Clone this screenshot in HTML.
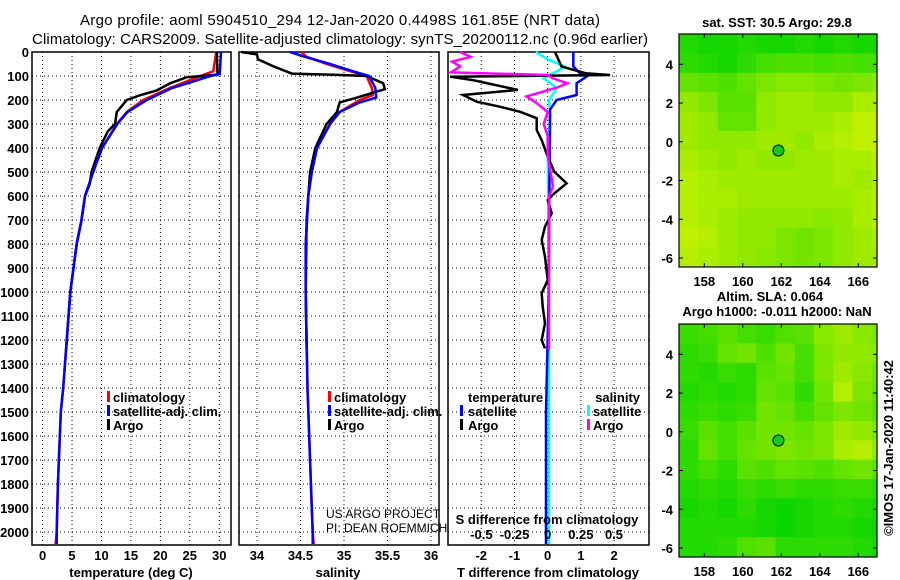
<!DOCTYPE html>
<html><head><meta charset="utf-8"><style>
body{margin:0;background:#fff;}
svg{display:block;font-family:"Liberation Sans",sans-serif;}
.t{font-size:13px;font-weight:bold;fill:#000;}
.n{font-size:12px;font-weight:normal;fill:#000;}
</style></head><body>
<svg id="c" width="900" height="580" viewBox="0 0 900 580">
<text x="340" y="25" text-anchor="middle" font-size="15" textLength="520">Argo profile: aoml 5904510_294 12-Jan-2020 0.4498S 161.85E (NRT data)</text>
<text x="340" y="44" text-anchor="middle" font-size="15" textLength="616">Climatology: CARS2009. Satellite-adjusted climatology: synTS_20200112.nc (0.96d earlier)</text>
<g id="g"></g>
</svg>
<script>
// ---- data ----
const tArgoD=[0,95,105,130,160,180,200,250,300,330,400,500,550,600,700,800,1000,1240];
const tArgoV=[29.6,29.7,24.5,21.7,19.4,16.6,14.3,12.6,12.3,11.1,9.7,8.3,8.0,7.2,6.6,5.8,4.7,4.0];
const tClimD=[0,80,100,150,200,250,300,400,500,600,700,800,1000,1400,1500,1800,2000,2050];
const tClimV=[29.5,29.0,26.8,21.6,17.1,14.3,12.6,10.1,8.6,7.2,6.6,5.8,4.7,3.5,3.1,2.6,2.4,2.2];
const tSatD=[0,90,100,150,200,250,300,400,500,600,700,800,1000,1400,1500,1800,2000,2050];
const tSatV=[30.3,30.1,28.5,22.0,17.7,14.4,12.7,10.1,8.6,7.2,6.6,5.8,4.7,3.5,3.1,2.6,2.4,2.4];
const sArgoD=[0,10,30,40,60,90,95,100,130,155,170,190,210,250,300,400,500,600,700,1000,1240];
const sArgoV=[33.82,34.0,34.01,34.07,34.19,34.4,34.88,35.26,35.45,35.47,35.33,35.15,34.95,34.92,34.8,34.67,34.61,34.59,34.57,34.56,34.57];
const sClimD=[0,20,50,80,100,150,180,200,250,300,400,500,600,800,1000,1400,1800,2000,2050];
const sClimV=[34.51,34.57,34.8,35.07,35.26,35.32,35.33,35.18,34.95,34.84,34.69,34.63,34.59,34.56,34.56,34.58,34.62,34.64,34.65];
const sSatD=[0,20,50,80,100,150,190,210,250,300,400,500,600,800,1000,1400,1800,2000,2050];
const sSatV=[34.38,34.55,34.84,35.1,35.29,35.36,35.37,35.18,34.95,34.84,34.69,34.63,34.59,34.56,34.56,34.58,34.62,34.64,34.64];
const dTArgoD=[0,61,89,96,103,117,158,179,207,228,249,276,325,367,436,499,547,589,617,672,728,783,853,950,1006,1061,1131,1200,1235];
const dTArgoV=[0.22,0.42,1.17,1.88,-2.94,-2.25,-0.9,-2.55,-2.14,-1.44,-0.83,-0.33,-0.33,-0.18,0,0.2,0.57,0.2,0,0.12,-0.08,-0.18,-0.08,0,-0.18,-0.15,-0.08,-0.18,-0.08];
const dTSatD=[0,60,89,103,130,179,200,240,300,600,1000,1500,2050];
const dTSatV=[0.77,0.77,0.97,1.17,0.87,0.87,0.27,0.07,0.07,0.05,0.03,-0.05,-0.05];
const dSArgoD=[0,20,40,60,85,96,110,130,150,185,210,250,300,350,430,560,600,1240];
const dSArgoV=[-0.66,-0.58,-0.72,-0.66,-0.73,0,0.04,0.15,0.06,-0.16,-0.09,0,-0.03,0,0,0.04,0.01,0.01];
const dSSatD=[0,30,60,89,110,150,200,260,400,1000,2050];
const dSSatV=[-0.09,0,0.13,0.04,-0.03,0.07,0.01,0.02,0,0.01,0.01];
const depthTicks=[0,100,200,300,400,500,600,700,800,900,1000,1100,1200,1300,1400,1500,1600,1700,1800,1900,2000];
const tempTicks=[0,5,10,15,20,25,30];
const salTicks=[34,34.5,35,35.5,36];
const tdTicks=[-2,-1,0,1,2];
const sdTicks=[-0.5,-0.25,0,0.25,0.5];
const lonTicks=[158,160,162,164,166];
const latTicks=[-6,-4,-2,0,2,4];
// map values (0=green,1=yellow), rows lat 5.5 -> -6.5, cols lon 156.7 -> 167
const sstRows=[
[0.15,0.1,0.1,0.15,0.1,0.1,0.15,0.1,0.15,0.1,0.1],
[0.2,0.15,0.1,0.2,0.3,0.35,0.35,0.3,0.35,0.3,0.3],
[0.45,0.4,0.35,0.45,0.55,0.6,0.6,0.55,0.5,0.55,0.6],
[0.65,0.55,0.4,0.4,0.65,0.7,0.7,0.65,0.65,0.75,0.75],
[0.7,0.65,0.45,0.45,0.65,0.7,0.7,0.7,0.75,0.85,0.85],
[0.7,0.65,0.65,0.65,0.7,0.7,0.65,0.75,0.8,0.85,0.85],
[0.75,0.7,0.65,0.7,0.65,0.65,0.7,0.7,0.75,0.75,0.8],
[0.8,0.75,0.7,0.7,0.7,0.7,0.7,0.7,0.75,0.7,0.8],
[0.8,0.75,0.75,0.7,0.7,0.7,0.7,0.7,0.7,0.75,0.8],
[0.8,0.75,0.7,0.65,0.65,0.65,0.65,0.6,0.65,0.75,0.8],
[0.85,0.8,0.7,0.65,0.65,0.55,0.5,0.55,0.65,0.7,0.75],
[0.8,0.75,0.7,0.65,0.6,0.55,0.5,0.55,0.65,0.7,0.7]];
const slaRows=[
[0.25,0.3,0.4,0.3,0.25,0.35,0.4,0.6,0.7,0.6,0.55],
[0.2,0.25,0.45,0.5,0.35,0.5,0.3,0.55,0.65,0.65,0.6],
[0.2,0.15,0.25,0.2,0.4,0.45,0.3,0.55,0.7,0.6,0.5],
[0.15,0.2,0.15,0.2,0.45,0.4,0.2,0.5,0.8,0.55,0.45],
[0.2,0.25,0.2,0.25,0.5,0.45,0.3,0.45,0.55,0.5,0.4],
[0.25,0.4,0.3,0.4,0.5,0.5,0.45,0.55,0.7,0.65,0.55],
[0.2,0.45,0.3,0.45,0.5,0.55,0.5,0.55,0.75,0.8,0.65],
[0.2,0.3,0.2,0.4,0.35,0.45,0.4,0.35,0.45,0.5,0.4],
[0.15,0.2,0.15,0.25,0.2,0.25,0.2,0.2,0.25,0.25,0.2],
[0.1,0.15,0.1,0.2,0.1,0.05,0.1,0.15,0.2,0.15,0.1],
[0.15,0.15,0.15,0.15,0.1,0.05,0.1,0.15,0.15,0.1,0.05],
[0.15,0.15,0.2,0.35,0.4,0.2,0.2,0.2,0.2,0.15,0.1]];
// ---- helpers ----
const NS='http://www.w3.org/2000/svg';const G=document.getElementById('g');
function mk(tag,at,txt){const e=document.createElementNS(NS,tag);for(const k in at)e.setAttribute(k,at[k]);if(txt!==undefined)e.textContent=txt;G.appendChild(e);return e;}
const Y0=52,YS=0.24,YB=545;
const yD=d=>Y0+d*YS;
function panel(x0,x1,vmin,vmax,ticks,name){
  const X=v=>x0+(v-vmin)/(vmax-vmin)*(x1-x0);
  depthTicks.forEach(d=>{const l=mk('line',{x1:x0,x2:x1,y1:yD(d),y2:yD(d),stroke:'#000','stroke-dasharray':'1,3'});
  
  });
  ticks.forEach(t=>{const l=mk('line',{x1:X(t),x2:X(t),y1:Y0,y2:YB,stroke:'#000','stroke-dasharray':'1,3'});
  
  });
  const r=mk('rect',{x:x0,y:Y0,width:x1-x0,height:YB-Y0,fill:'none',stroke:'#000','stroke-width':1.5});
  
  
  return X;
}
function line(X,D,V,col,name,w){
  const p=D.map((d,i)=>X(V[i]).toFixed(1)+','+yD(d).toFixed(1)).join(' ');
  const l=mk('polyline',{points:p,fill:'none',stroke:col,'stroke-width':w||2.5});
  
  
}
function txt(x,y,s,anchor,name,cls,extra){
  const t=mk('text',Object.assign({x:x,y:y,'text-anchor':anchor||'start',class:cls||'t'},extra||{}),s);
  
  return t;
}
function legMark(x,y,col,name){const r=mk('rect',{x:x,y:y-11,width:3,height:11,fill:col});
  
  }
// depth labels
depthTicks.forEach(d=>txt(29,yD(d)+5,String(d),'end','depth-tick-label'));
// panel 1
const XT=panel(32,231,-1.8,32,tempTicks,'temp-panel');
tempTicks.forEach(t=>txt(XT(t),560,String(t),'middle','temp-tick-label'));
txt(131,577,'temperature (deg C)','middle','temp-axis-title');
line(XT,tClimD,tClimV,'#ff0000','temp-climatology-line');
line(XT,tArgoD,tArgoV,'#000','temp-argo-line');
line(XT,tSatD,tSatV,'#0000ff','temp-satellite-line');
[['#ff0000','climatology'],['#0000ff','satellite-adj. clim.'],['#000','Argo']].forEach((a,i)=>{legMark(107,402+i*14,a[0],'temp-legend-marker');txt(113,402+i*14,a[1],'start','temp-legend-entry');});
// panel 2
const XS=panel(239,439,33.793,36.092,salTicks,'salinity-panel');
salTicks.forEach(t=>txt(XS(t),560,String(t),'middle','salinity-tick-label'));
txt(338,577,'salinity','middle','salinity-axis-title');
line(XS,sClimD,sClimV,'#ff0000','sal-climatology-line');
line(XS,sArgoD,sArgoV,'#000','sal-argo-line');
line(XS,sSatD,sSatV,'#0000ff','sal-satellite-line');
[['#ff0000','climatology'],['#0000ff','satellite-adj. clim.'],['#000','Argo']].forEach((a,i)=>{legMark(328,402+i*14,a[0],'sal-legend-marker');txt(334,402+i*14,a[1],'start','sal-legend-entry');});
txt(326,518,'US ARGO PROJECT','start','credit-project','n');
txt(326,532,'PI: DEAN ROEMMICH','start','credit-pi','n');
// panel 3
const XD=panel(448,649,-3.0,3.05,tdTicks,'diff-panel');
const XSD=v=>547.7+v*132.6;
line(XSD,dSSatD,dSSatV,'#00ffff','sdiff-satellite-line');
line(XD,dTSatD,dTSatV,'#0000ff','tdiff-satellite-line');
line(XD,dTArgoD,dTArgoV,'#000','tdiff-argo-line');
line(XSD,dSArgoD,dSArgoV,'#ff00ff','sdiff-argo-line');
tdTicks.forEach(t=>txt(XD(t),560,String(t),'middle','tdiff-tick-label'));
txt(548,577,'T difference from climatology','middle','tdiff-axis-title');
sdTicks.forEach(t=>txt(XSD(t),539,String(t),'middle','sdiff-tick-label'));
txt(547,524,'S difference from climatology','middle','sdiff-axis-title');
txt(468,402,'temperature','start','tdiff-legend-title');
txt(640,402,'salinity','end','sdiff-legend-title');
legMark(460,416,'#0000ff','tdiff-legend-marker');txt(468,416,'satellite','start','tdiff-legend-entry');
legMark(460,430,'#000','tdiff-legend-marker');txt(468,430,'Argo','start','tdiff-legend-entry');
legMark(587,416,'#00ffff','sdiff-legend-marker');txt(593,416,'satellite','start','sdiff-legend-entry');
legMark(587,430,'#ff00ff','sdiff-legend-marker');txt(593,430,'Argo','start','sdiff-legend-entry');
// maps
function col(v){const a=[0,212,0],b=[225,245,0];return 'rgb('+a.map((c,i)=>Math.round(c+(b[i]-c)*v)).join(',')+')';}
function map(top,rows,name){
  const x0=679,x1=877,bot=top+233;
  const LX=l=>704.3+(l-158)*19.25, LY=la=>top+30.3+(4-la)*19.37;
  const cl=mk('clipPath',{id:'cp'+top});const cr=document.createElementNS(NS,'rect');
  cr.setAttribute('x',x0);cr.setAttribute('y',top);cr.setAttribute('width',x1-x0);cr.setAttribute('height',bot-top);cl.appendChild(cr);
  rows.forEach((row,ri)=>row.forEach((v,ci)=>{
    const r=mk('rect',{x:LX(156.7+ci).toFixed(1),y:LY(5.56-ri).toFixed(1),width:19.8,height:19.9,fill:col(v),'clip-path':'url(#cp'+top+')'});
    
    
  }));
  const f=mk('rect',{x:x0,y:top,width:x1-x0,height:bot-top,fill:'none',stroke:'#000','stroke-width':1.2});
  
  
  lonTicks.forEach(l=>{txt(LX(l),bot+19,String(l),'middle',name+'-lon-label');
    mk('line',{x1:LX(l),x2:LX(l),y1:top,y2:top+4,stroke:'#000'});mk('line',{x1:LX(l),x2:LX(l),y1:bot,y2:bot-4,stroke:'#000'});});
  latTicks.forEach(la=>{txt(673,LY(la)+5,String(la),'end',name+'-lat-label');
    mk('line',{x1:x0,x2:x0+4,y1:LY(la),y2:LY(la),stroke:'#000'});mk('line',{x1:x1,x2:x1-4,y1:LY(la),y2:LY(la),stroke:'#000'});});
  const c=mk('circle',{cx:LX(161.85),cy:LY(-0.45),r:5.5,fill:'#10c820',stroke:'#000','stroke-width':1});
  
  
}
map(34,sstRows,'sst-map');
map(324,slaRows,'sla-map');
txt(777,27,'sat. SST: 30.5 Argo: 29.8','middle','sst-map-title');
txt(770,301,'Altim. SLA: 0.064','middle','sla-map-title');
txt(777,316,'Argo h1000: -0.011 h2000: NaN','middle','sla-map-subtitle');
txt(893,448,'©IMOS 17-Jan-2020 11:40:42','middle','imos-stamp','',{'font-size':13,transform:'rotate(-90 893 448)','font-weight':'normal'});
</script>
</body></html>
